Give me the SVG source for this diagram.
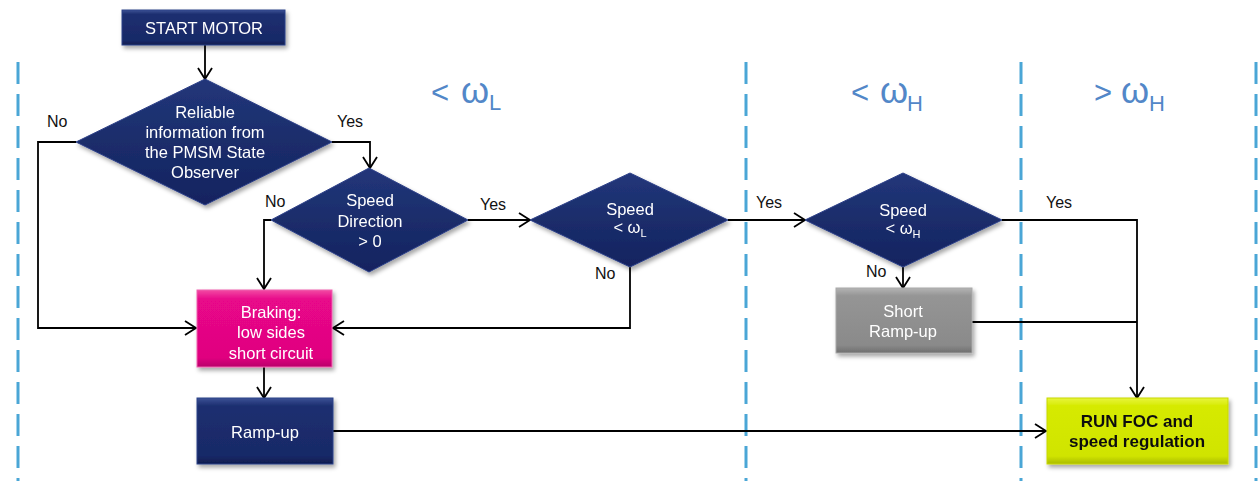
<svg xmlns="http://www.w3.org/2000/svg" width="1258" height="481" viewBox="0 0 1258 481">
  <defs>
    <style>
      .lane { stroke: #4aa6d6; stroke-width: 3; stroke-dasharray: 22 10; fill: none; }
      .hdr { font-family: "Liberation Sans", Arial, sans-serif; fill: #5287c8; }
      .wire { stroke: #000; stroke-width: 1.8; fill: none; }
      .arrow { marker-end: url(#chev); }
      .lbl { font-family: "Liberation Sans", Arial, sans-serif; font-size: 16px; fill: #111; }
      .wt { font-family: "Liberation Sans", Arial, sans-serif; font-size: 16.5px; fill: #fff; text-anchor: middle; }
      .bt { font-family: "Liberation Sans", Arial, sans-serif; font-size: 17px; font-weight: bold; fill: #111; text-anchor: middle; }
      .box { filter: url(#shadow); }
    </style>
    <marker id="chev" markerUnits="userSpaceOnUse" markerWidth="14" markerHeight="16" refX="12" refY="8" orient="auto">
      <path d="M1,1 L12,8 L1,15" fill="none" stroke="#000" stroke-width="1.8"/>
    </marker>
    <filter id="shadow" x="-10%" y="-10%" width="125%" height="135%">
      <feDropShadow dx="2" dy="3" stdDeviation="2" flood-color="#000" flood-opacity="0.35"/>
    </filter>
    <linearGradient id="navy" x1="0" y1="0" x2="0" y2="1">
      <stop offset="0" stop-color="#3d5296"/>
      <stop offset="0.12" stop-color="#1d2f70"/>
      <stop offset="0.88" stop-color="#182967"/>
      <stop offset="1" stop-color="#0f1c4e"/>
    </linearGradient>
    <linearGradient id="navyD" x1="0" y1="0" x2="0" y2="1">
      <stop offset="0" stop-color="#22367a"/>
      <stop offset="0.5" stop-color="#1b2d6b"/>
      <stop offset="1" stop-color="#132360"/>
    </linearGradient>
    <linearGradient id="pink" x1="0" y1="0" x2="0" y2="1">
      <stop offset="0" stop-color="#f24aa3"/>
      <stop offset="0.12" stop-color="#e8078a"/>
      <stop offset="0.88" stop-color="#e0057f"/>
      <stop offset="1" stop-color="#b8006a"/>
    </linearGradient>
    <linearGradient id="grey" x1="0" y1="0" x2="0" y2="1">
      <stop offset="0" stop-color="#b4b4b4"/>
      <stop offset="0.12" stop-color="#959595"/>
      <stop offset="0.88" stop-color="#8a8a8a"/>
      <stop offset="1" stop-color="#6e6e6e"/>
    </linearGradient>
    <linearGradient id="lime" x1="0" y1="0" x2="0" y2="1">
      <stop offset="0" stop-color="#e8f53c"/>
      <stop offset="0.12" stop-color="#d6ea00"/>
      <stop offset="0.88" stop-color="#d0e400"/>
      <stop offset="1" stop-color="#aabb00"/>
    </linearGradient>
  </defs>

  <rect width="1258" height="481" fill="#fff"/>

  <!-- speed range lanes -->
  <g id="lanes">
    <line class="lane" x1="18" y1="62" x2="18" y2="481"/>
    <line class="lane" x1="746" y1="62" x2="746" y2="481"/>
    <line class="lane" x1="1021" y1="62" x2="1021" y2="481"/>
    <line class="lane" x1="1256" y1="62" x2="1256" y2="481"/>
  </g>

  <!-- lane headers -->
  <g id="headers">
    <text class="hdr" font-size="31"><tspan x="431" y="103">&lt;</tspan><tspan x="461" y="103" font-size="36">ω</tspan><tspan x="489" y="110" font-size="22">L</tspan></text>
    <text class="hdr" font-size="31"><tspan x="851" y="103">&lt;</tspan><tspan x="880" y="103" font-size="36">ω</tspan><tspan x="907" y="111" font-size="22">H</tspan></text>
    <text class="hdr" font-size="31"><tspan x="1094" y="103">&gt;</tspan><tspan x="1121" y="103" font-size="36">ω</tspan><tspan x="1149" y="111" font-size="22">H</tspan></text>
  </g>

  <!-- connectors -->
  <g id="connectors">
    <line class="wire arrow" x1="205" y1="45" x2="205" y2="79"/>
    <polyline class="wire arrow" points="76,142 38,142 38,328 196,328"/>
    <polyline class="wire arrow" points="332,142 370,142 370,168"/>
    <polyline class="wire arrow" points="271,220 264,220 264,289"/>
    <line class="wire arrow" x1="468" y1="220" x2="530" y2="220"/>
    <polyline class="wire arrow" points="630,267 630,328 333,328"/>
    <line class="wire arrow" x1="728" y1="220" x2="805" y2="220"/>
    <line class="wire arrow" x1="903" y1="267" x2="903" y2="288"/>
    <polyline class="wire arrow" points="1002,220 1137,220 1137,398"/>
    <line class="wire" x1="972" y1="322" x2="1137" y2="322"/>
    <line class="wire arrow" x1="264" y1="367" x2="264" y2="398"/>
    <line class="wire arrow" x1="333" y1="431" x2="1046" y2="431"/>

    <text class="lbl" x="47" y="127">No</text>
    <text class="lbl" x="337" y="127">Yes</text>
    <text class="lbl" x="265" y="207">No</text>
    <text class="lbl" x="480" y="210">Yes</text>
    <text class="lbl" x="595" y="279">No</text>
    <text class="lbl" x="756" y="208">Yes</text>
    <text class="lbl" x="866" y="277">No</text>
    <text class="lbl" x="1046" y="208">Yes</text>
  </g>

  <g id="start-motor" class="box">
    <rect x="122" y="10" width="163" height="35" fill="url(#navy)" stroke="#2d4088" stroke-width="1"/>
    <text class="wt" x="204" y="34" font-size="17">START MOTOR</text>
  </g>

  <g id="reliable-info" class="box">
    <polygon points="205,79 332,142 205,205 76,142" fill="url(#navyD)" stroke="#2d4088" stroke-width="1"/>
    <text class="wt" x="205" y="118">Reliable</text>
    <text class="wt" x="205" y="138">information from</text>
    <text class="wt" x="205" y="158">the PMSM State</text>
    <text class="wt" x="205" y="178">Observer</text>
  </g>

  <g id="speed-direction" class="box">
    <polygon points="369,168 468,220 369,272 271,220" fill="url(#navyD)" stroke="#2d4088" stroke-width="1"/>
    <text class="wt" x="370" y="206">Speed</text>
    <text class="wt" x="370" y="227">Direction</text>
    <text class="wt" x="370" y="247">&gt; 0</text>
  </g>

  <g id="speed-low" class="box">
    <polygon points="630,173 728,220 630,267 530,220" fill="url(#navyD)" stroke="#2d4088" stroke-width="1"/>
    <text class="wt" x="630" y="215">Speed</text>
    <text class="wt" x="630" y="233" font-size="15">&lt; ω<tspan font-size="11" dy="4">L</tspan></text>
  </g>

  <g id="speed-high" class="box">
    <polygon points="903,173 1002,220 903,267 805,220" fill="url(#navyD)" stroke="#2d4088" stroke-width="1"/>
    <text class="wt" x="903" y="216">Speed</text>
    <text class="wt" x="903" y="234" font-size="15">&lt; ω<tspan font-size="11" dy="4">H</tspan></text>
  </g>

  <g id="braking" class="box">
    <rect x="197" y="290" width="135" height="77" fill="url(#pink)" stroke="#f060b0" stroke-width="1"/>
    <text class="wt" x="271" y="318" font-size="17">Braking:</text>
    <text class="wt" x="271" y="338" font-size="17">low sides</text>
    <text class="wt" x="271" y="359" font-size="17">short circuit</text>
  </g>

  <g id="ramp-up" class="box">
    <rect x="197" y="398" width="136" height="66" fill="url(#navy)" stroke="#2d4088" stroke-width="1"/>
    <text class="wt" x="265" y="438" font-size="17">Ramp-up</text>
  </g>

  <g id="short-ramp-up" class="box">
    <rect x="836" y="288" width="136" height="65" fill="url(#grey)" stroke="#a8a8a8" stroke-width="1"/>
    <text class="wt" x="903" y="317" font-size="17">Short</text>
    <text class="wt" x="903" y="337" font-size="17">Ramp-up</text>
  </g>

  <g id="run-foc" class="box">
    <rect x="1047" y="398" width="181" height="66" fill="url(#lime)" stroke="#c8d800" stroke-width="1"/>
    <text class="bt" x="1137" y="427">RUN FOC and</text>
    <text class="bt" x="1137" y="447">speed regulation</text>
  </g>
</svg>
